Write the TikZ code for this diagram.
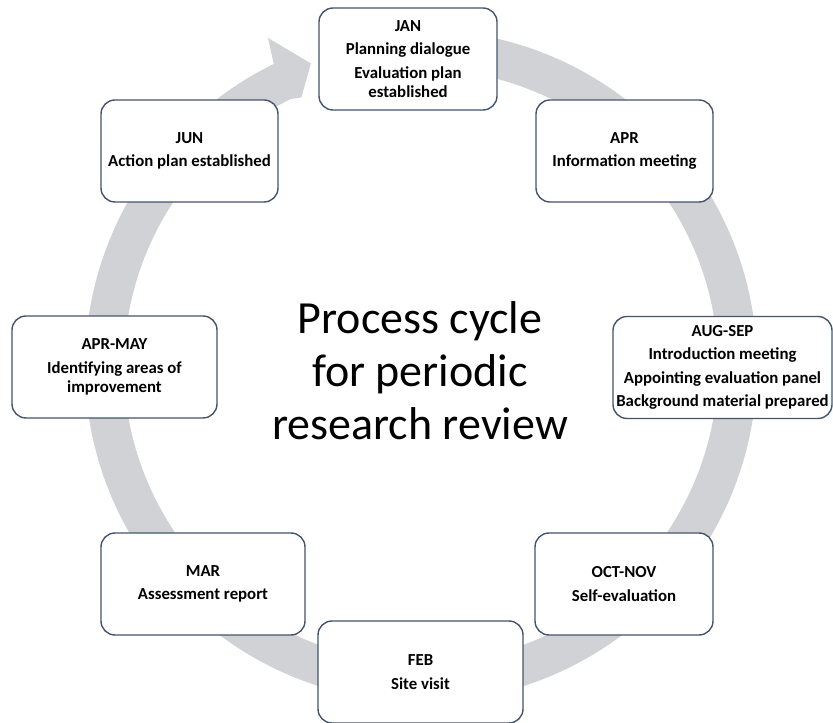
\documentclass[tikz,border=0pt]{standalone}
\usepackage{fontspec}
\setmainfont{Carlito}
\usepackage{tikz}
\definecolor{ringgray}{RGB}{208,210,214}
\definecolor{boxline}{RGB}{68,84,106}

\begin{document}
\begin{tikzpicture}[x=1pt,y=1pt,
    stage/.style={draw=boxline, line width=1.4pt, fill=white, rounded corners=14pt,
      minimum height=102pt, inner sep=2pt, align=center,
      font=\fontsize{16.8}{19}\selectfont\bfseries}]
  \useasboundingbox (0,0) rectangle (833,723);
  \coordinate (ctr) at (421,357);
  % grey ring, clockwise, arrow head just left of JAN
  \fill[ringgray] ([shift={(85:336)}]ctr) arc[start angle=85, end angle=-244, radius=336]
    -- ([shift={(-245:362)}]ctr) -- ([shift={(-250:322)}]ctr) -- ([shift={(-246:294)}]ctr)
    -- ([shift={(-244:297)}]ctr) arc[start angle=-244, end angle=85, radius=297] -- cycle;
  \node[font=\fontsize{46}{53}\selectfont, align=center] (title) at (420,352)
    {Process cycle\\for periodic\\research review};
  \node[stage, minimum width=178pt] (jan) at (408,664)
    {JAN\\[4.5pt]Planning dialogue\\[4.5pt]Evaluation plan\\established};
  \node[stage, minimum width=177pt] (apr) at (624.5,572)
    {APR\\[4.5pt]Information meeting};
  \node[stage, minimum width=219pt] (augsep) at (722.5,355.5)
    {AUG-SEP\\[4.5pt]Introduction meeting\\[4.5pt]Appointing evaluation panel\\[4.5pt]Background material prepared};
  \node[stage, minimum width=178pt] (octnov) at (624,139)
    {OCT-NOV\\[4.5pt]Self-evaluation};
  \node[stage, minimum width=205pt] (feb) at (420.5,51)
    {FEB\\[4.5pt]Site visit};
  \node[stage, minimum width=204pt] (mar) at (203,139)
    {MAR\\[4.5pt]Assessment report};
  \node[stage, minimum width=205pt] (aprmay) at (114.5,356)
    {APR-MAY\\[4.5pt]Identifying areas of\\improvement};
  \node[stage, minimum width=177pt] (jun) at (189.5,572)
    {JUN\\[4.5pt]Action plan established};
\end{tikzpicture}
\end{document}
